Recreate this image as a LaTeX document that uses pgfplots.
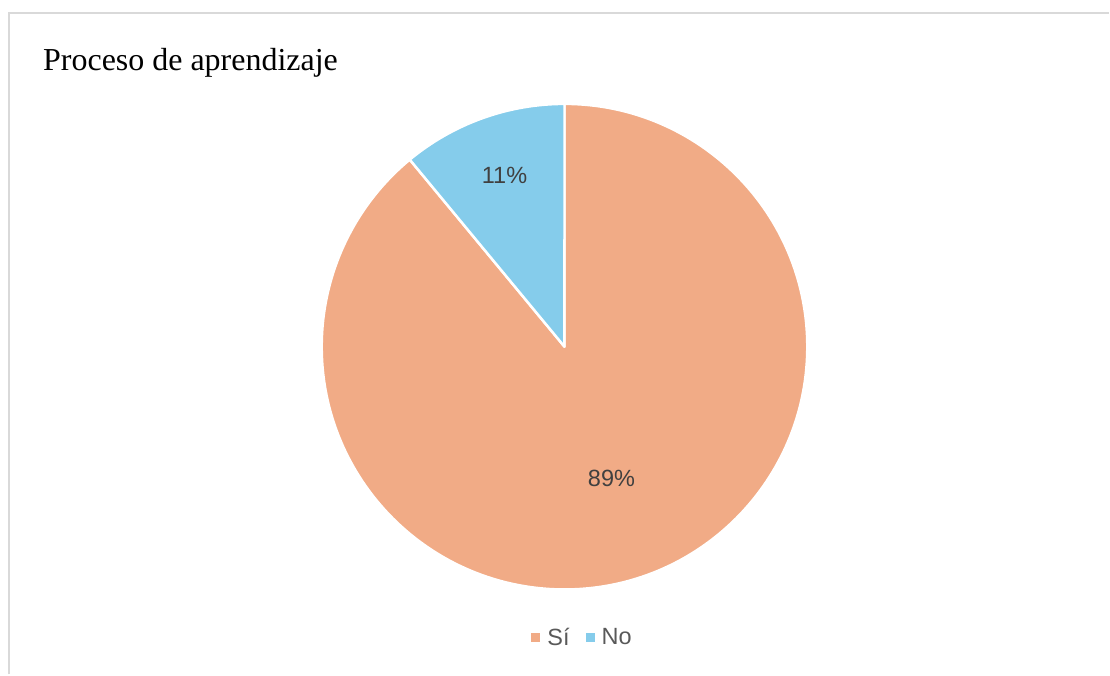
\documentclass[border=0pt]{standalone}
\usepackage{fontspec}
\setmainfont{Liberation Serif}
\newfontfamily\arialfont{Liberation Sans}
\usepackage{pgfplots}
\usepackage{pgfplotstable}
\pgfplotsset{compat=1.18}

\definecolor{si}{HTML}{F1AB86}
\definecolor{no}{HTML}{85CCEB}
\definecolor{frame}{HTML}{D9D9D9}
\definecolor{lbl}{HTML}{404040}
\definecolor{leg}{HTML}{595959}

% share of answers, percent
\pgfplotstableread{
label value
Si    89
No    11
}\piedata

\begin{document}
\begin{tikzpicture}
\pgfplotstablegetelem{0}{value}\of\piedata \let\valSi\pgfplotsretval
\pgfplotstablegetelem{1}{value}\of\piedata \let\valNo\pgfplotsretval
\pgfmathsetmacro{\aStart}{90}
\pgfmathsetmacro{\aMid}{90-3.6*\valSi}
\pgfmathsetmacro{\aEnd}{\aMid-3.6*\valNo}
\begin{axis}[
  scale only axis,
  width=1110pt, height=675pt,
  xmin=0, xmax=1110, ymin=0, ymax=675,
  hide axis,
  clip=false,
  legend columns=2,
  legend style={draw=none, fill=none, at={(axis cs:583,37)}, anchor=center,
    font=\arialfont\fontsize{23.5}{26}\selectfont, text=leg,
    /tikz/every even column/.append style={column sep=14pt}},
  legend image code/.code={\fill[#1, draw=none] (0pt,-4.5pt) rectangle (9pt,4.5pt);
    \path (14pt,0pt);},
]
\path (axis cs:0,0) rectangle (axis cs:1110,675);
% chart frame
\draw[frame, line width=2pt] (axis cs:9,0) -- (axis cs:9,662) -- (axis cs:1110,662);
% title
\node[anchor=base west, inner sep=0pt, font=\fontsize{32}{36}\selectfont] at (axis cs:43,604) {Proceso de aprendizaje};
% slices
\fill[si, draw=white, line width=2.5pt, line join=round] (axis cs:565,328)
  -- (axis cs:{565+243*cos(\aStart)},{328+243*sin(\aStart)})
  arc[start angle=\aStart, end angle=\aMid, radius=243] -- cycle;
\fill[no, draw=white, line width=2.5pt, line join=round] (axis cs:565,328)
  -- (axis cs:{565+243*cos(\aMid)},{328+243*sin(\aMid)})
  arc[start angle=\aMid, end angle=\aEnd, radius=243] -- cycle;
% data labels
\node[font=\arialfont\fontsize{23.5}{26}\selectfont, text=lbl] at (axis cs:505,499) {\valNo\%};
\node[font=\arialfont\fontsize{23.5}{26}\selectfont, text=lbl] at (axis cs:612,196) {\valSi\%};
\addlegendimage{fill=si}
\addlegendentry{Sí}
\addlegendimage{fill=no}
\addlegendentry{No}
\end{axis}
\end{tikzpicture}
\end{document}
